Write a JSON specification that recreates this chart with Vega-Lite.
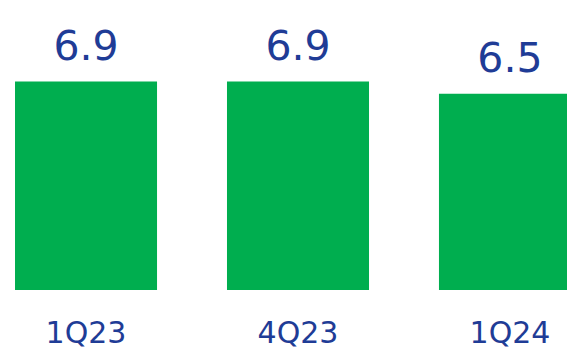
{
  "$schema": "https://vega.github.io/schema/vega-lite/v6.json",
  "autosize": "none",
  "padding": {"left": 0, "top": 0, "right": 0, "bottom": 63},
  "width": 567,
  "height": 290,
  "background": "white",
  "config": {"view": {"stroke": null}},
  "data": {
    "values": [
      {"quarter": "1Q23", "value": 6.9},
      {"quarter": "4Q23", "value": 6.9},
      {"quarter": "1Q24", "value": 6.5}
    ]
  },
  "encoding": {
    "x": {
      "field": "quarter",
      "type": "nominal",
      "sort": null,
      "scale": {"range": [0, 596], "paddingInner": 0.33, "paddingOuter": 0.0708},
      "axis": {
        "title": null,
        "domain": false,
        "ticks": false,
        "tickSize": 0,
        "labelAngle": 0,
        "labelBaseline": "alphabetic",
        "labelPadding": 52,
        "labelFont": "DejaVu Sans",
        "labelFontSize": 30,
        "labelColor": "#1F3C96",
        "labelFontWeight": "normal"
      }
    },
    "y": {
      "field": "value",
      "type": "quantitative",
      "scale": {"domain": [0, 9.6], "nice": false},
      "axis": null
    }
  },
  "layer": [
    {"mark": {"type": "bar", "color": "#00AE4F", "clip": true}},
    {
      "mark": {
        "type": "text",
        "baseline": "alphabetic",
        "dy": -22,
        "font": "DejaVu Sans",
        "fontSize": 41,
        "color": "#1F3C96"
      },
      "encoding": {"text": {"field": "value", "type": "quantitative", "format": ".1f"}}
    }
  ]
}
